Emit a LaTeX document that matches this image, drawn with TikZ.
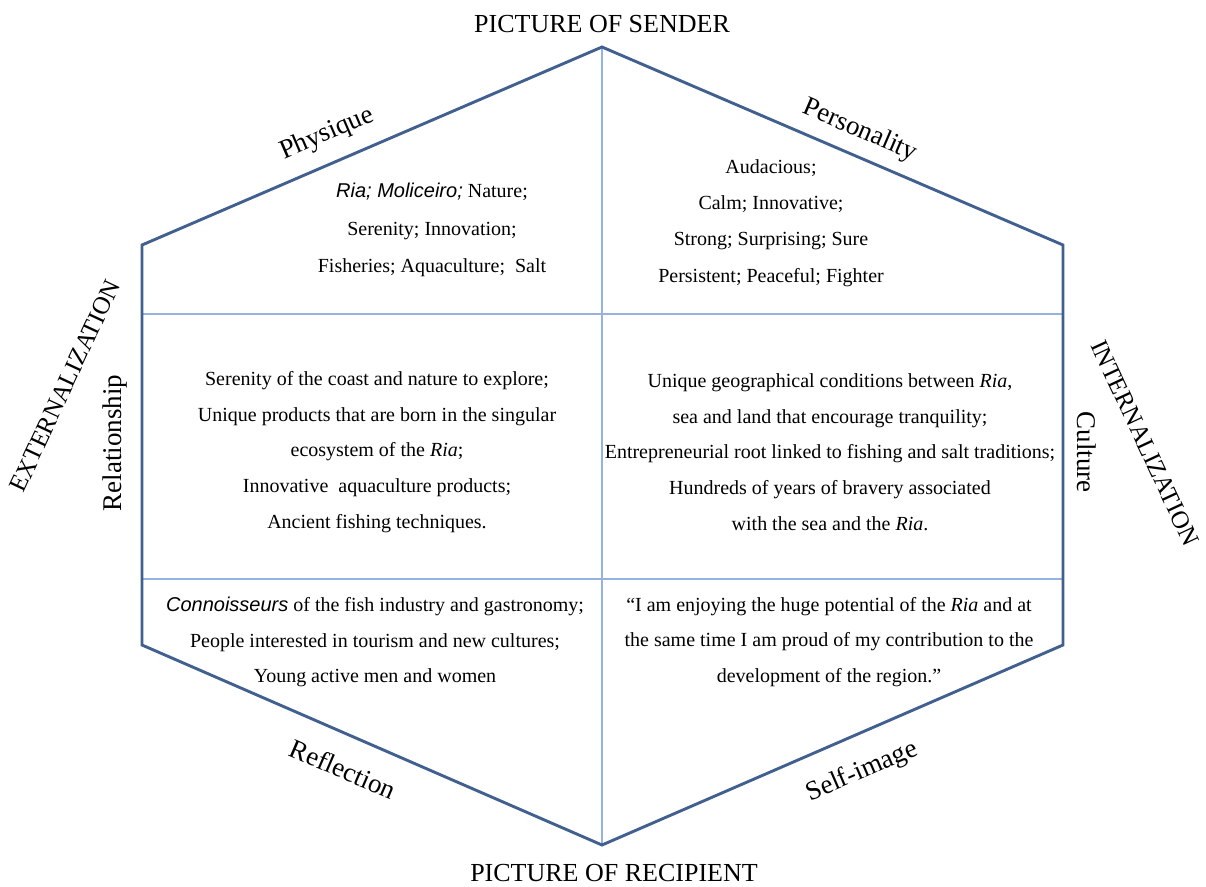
\documentclass[tikz,border=0pt]{standalone}
\usepackage{fontspec}
\setmainfont{Liberation Serif}
\newfontfamily\sansitf{Liberation Sans}
\definecolor{hexblue}{HTML}{41608F}
\definecolor{gridblue}{HTML}{95B3DE}
\tikzset{
  hexline/.style={draw=hexblue,line width=2.9pt,line join=miter},
  gridline/.style={draw=gridblue,line width=1.3pt},
  body/.style={align=center,inner sep=0pt,font=\fontsize{20}{35.6}\selectfont},
  bodywide/.style={align=center,inner sep=0pt,font=\fontsize{20}{37.5}\selectfont},
  bodymid/.style={align=center,inner sep=0pt,font=\fontsize{20}{36.4}\selectfont},
  title/.style={inner sep=0pt,font=\fontsize{26}{30}\selectfont},
  side/.style={inner sep=0pt,font=\fontsize{27}{30}\selectfont},
  sidecaps/.style={inner sep=0pt,font=\fontsize{25}{30}\selectfont},
}
\newcommand{\sit}[1]{{\sansitf\itshape #1}}
\begin{document}
\begin{tikzpicture}[x=1pt,y=-1pt]
\useasboundingbox (0,0) rectangle (1206,886);
\fill[white] (0,0) rectangle (1206,886);
% vertices
\coordinate (T) at (602,47);
\coordinate (UR) at (1063,245);
\coordinate (LR) at (1063,645);
\coordinate (B) at (602,845);
\coordinate (LL) at (142,645);
\coordinate (UL) at (142,245);
\coordinate (ML) at (142,314);
\coordinate (MR) at (1063,314);
\coordinate (NL) at (142,579);
\coordinate (NR) at (1063,579);
% inner grid
\draw[gridline] (ML) -- (MR);
\draw[gridline] (NL) -- (NR);
\draw[gridline] (T) -- (B);
% hexagon
\draw[hexline] (T) -- (UR) -- (LR) -- (B) -- (LL) -- (UL) -- cycle;
% titles
\node[title] (sender) at (602,24) {PICTURE OF SENDER};
\node[title] (recipient) at (614,873) {PICTURE OF RECIPIENT};
% side labels
\node[side,rotate=23.3] (physique) at (327,134) {Physique};
\node[side,rotate=-23.3] (personality) at (860,131) {Personality};
\node[side,rotate=-23.3] (reflection) at (343,769) {Reflection};
\node[side,rotate=23.3] (selfimage) at (862,772) {Self-image};
\node[sidecaps,rotate=65] (ext) at (65,386) {EXTERNALIZATION};
\node[sidecaps,rotate=-65] (int) at (1145,443) {INTERNALIZATION};
\node[side,rotate=90] (relationship) at (115,443) {Relationship};
\node[side,rotate=-90] (culture) at (1087,452) {Culture};
% cell texts
\node[bodywide] (c1) at (432,230) {\sit{Ria; Moliceiro;} Nature;\\Serenity; Innovation;\\Fisheries; Aquaculture;\ \ Salt};
\node[bodymid] (c2) at (771,223) {Audacious;\\Calm; Innovative;\\Strong; Surprising;\ Sure\\Persistent; Peaceful; Fighter};
\node[body] (c3) at (377,452) {Serenity of the coast and nature to explore;\\Unique products that are born in the singular\\ecosystem of the \textit{Ria};\\Innovative\ \ aquaculture products;\\Ancient fishing techniques.};
\node[body] (c4) at (830,452) {Unique geographical conditions between \textit{Ria},\\sea and land that encourage tranquility;\\Entrepreneurial root linked to fishing and salt traditions;\\Hundreds of years of bravery associated\\with the sea and the \textit{Ria}.};
\node[body] (c5) at (375,642) {\sit{Connoisseurs} of the fish industry and gastronomy;\\People interested in tourism and new cultures;\\Young active men and women};
\node[body] (c6) at (829,642) {``I am enjoying the huge potential of the \textit{Ria} and at\\the same time I am proud of my contribution to the\\development of the region.''};
\end{tikzpicture}
\end{document}
